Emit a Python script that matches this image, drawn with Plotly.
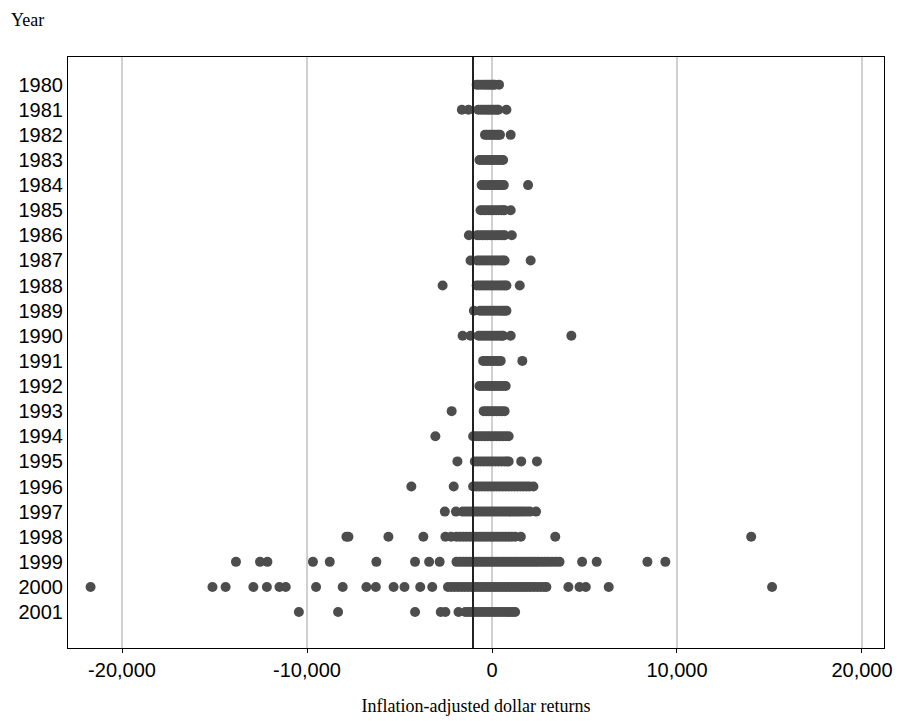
import plotly.graph_objects as go

# returns per year
returns = {
    1980: [-830, -700, -560, -420, -300, -180, -60, 60, 150, 380],
    1981: [-1630, -1270, -740, -600, -460, -320, -200, -80, 40, 160, 260, 340, 780],
    1982: [-380, -260, -140, -20, 100, 220, 330, 430, 1010],
    1983: [-680, -540, -400, -260, -120, 0, 130, 260, 380, 500, 600],
    1984: [-560, -420, -280, -140, 0, 130, 260, 390, 520, 640, 1950],
    1985: [-620, -480, -340, -200, -60, 80, 220, 360, 500, 600, 680, 1010],
    1986: [-1250, -800, -660, -520, -380, -240, -100, 40, 180, 320, 460, 580, 680, 1070],
    1987: [-1160, -800, -660, -520, -380, -240, -100, 40, 180, 320, 460, 580, 680, 2090],
    1988: [-2670, -830, -690, -550, -410, -270, -130, 10, 150, 290, 430, 560, 680, 780, 1500],
    1989: [-980, -650, -510, -370, -230, -90, 50, 190, 330, 460, 580, 680, 780],
    1990: [-1590, -1160, -720, -580, -440, -300, -160, -20, 120, 260, 400, 520, 600, 1010, 4290],
    1991: [-480, -340, -200, -60, 80, 220, 350, 470, 1640],
    1992: [-680, -540, -400, -260, -120, 20, 160, 300, 440, 580, 740],
    1993: [-2180, -450, -310, -170, -30, 110, 250, 390, 530, 680],
    1994: [-3060, -1020, -860, -700, -540, -380, -220, -60, 100, 260, 420, 580, 740, 900],
    1995: [-1870, -930, -770, -610, -450, -290, -130, 30, 190, 350, 510, 670, 800, 900, 1580, 2430],
    1996: [-4360, -2070, -1020, -860, -700, -540, -380, -220, -60, 100, 260, 420, 580, 740,
           900, 1060, 1220, 1380, 1540, 1700, 1860, 2020, 2240],
    1997: [-2550, -1950, -1580, -1400, -1220, -1040, -880, -720, -560, -400, -240, -80, 80,
           240, 400, 560, 720, 880, 1040, 1200, 1360, 1520, 1680, 1860, 2040, 2380],
    1998: [-7870, -7760, -5600, -3710, -2520, -2210, -1920, -1740, -1560, -1380, -1200, -1020,
           -860, -700, -540, -380, -220, -60, 100, 260, 420, 580, 740, 900, 1060, 1250, 1560,
           3420, 14010],
    1999: [-13840, -12540, -12140, -9680, -8770, -6250, -4160, -3400, -2830, -1920, -1740,
           -1560, -1380, -1200, -1020, -860, -700, -540, -380, -220, -60, 100, 260, 420, 580,
           740, 900, 1060, 1220, 1380, 1540, 1700, 1860, 2020, 2180, 2340, 2500, 2680, 2860,
           3040, 3240, 3450, 3650, 4870, 5660, 8400, 9370],
    2000: [-21700, -15110, -14400, -12900, -12170, -11490, -11150, -9510, -8070, -6790, -6280,
           -5320, -4730, -3880, -3230, -2380, -2200, -2020, -1840, -1660, -1480, -1300, -1120,
           -960, -800, -640, -480, -320, -160, 0, 160, 320, 480, 640, 800, 960, 1120, 1280,
           1440, 1600, 1760, 1920, 2080, 2260, 2440, 2620, 2800, 2940, 4130, 4730, 5070, 6310,
           15140],
    2001: [-10440, -8320, -4160, -2770, -2520, -1810, -1440, -1280, -1120, -960, -800, -640,
           -480, -320, -160, 0, 160, 320, 480, 640, 800, 960, 1100, 1250],
}
mean_return = -1027
x_ticks = [-20000, -10000, 0, 10000, 20000]
x_labels = ['-20,000', '-10,000', '0', '10,000', '20,000']

xs, ys = [], []
for yr, vals in returns.items():
    xs += vals
    ys += [yr] * len(vals)

fig = go.Figure()
fig.add_trace(go.Scatter(x=xs, y=ys, mode='markers',
                         marker=dict(color='#4d4d4d', size=10), showlegend=False))
fig.add_vline(x=mean_return, line=dict(color='#222222', width=2))

fig.update_layout(
    width=901, height=721,
    margin=dict(l=60, r=25, t=49, b=81),
    plot_bgcolor='white', paper_bgcolor='white',
    font=dict(family='Liberation Sans', size=20, color='black'),
)
fig.update_xaxes(range=[-22920, 21190], tickvals=x_ticks, ticktext=x_labels,
                 showgrid=True, gridcolor='#d0d0d0', gridwidth=2, zeroline=False,
                 showline=True, linecolor='black', mirror=True, automargin=False,
                 ticks='outside', ticklen=4, tickcolor='black',
                 title=dict(text='Inflation-adjusted dollar returns',
                            font=dict(family='Liberation Serif', size=18), standoff=19))
fig.update_yaxes(range=[2002.43, 1978.9], tickvals=list(returns.keys()),
                 showgrid=False, zeroline=False, automargin=False,
                 showline=True, linecolor='black', mirror=True, ticks='', ticklen=2)
fig.add_annotation(text='Year', xref='paper', yref='paper', x=-0.072, y=1.062,
                   xanchor='left', yanchor='middle', showarrow=False,
                   font=dict(family='Liberation Serif', size=18))

fig.write_html("out.html")
